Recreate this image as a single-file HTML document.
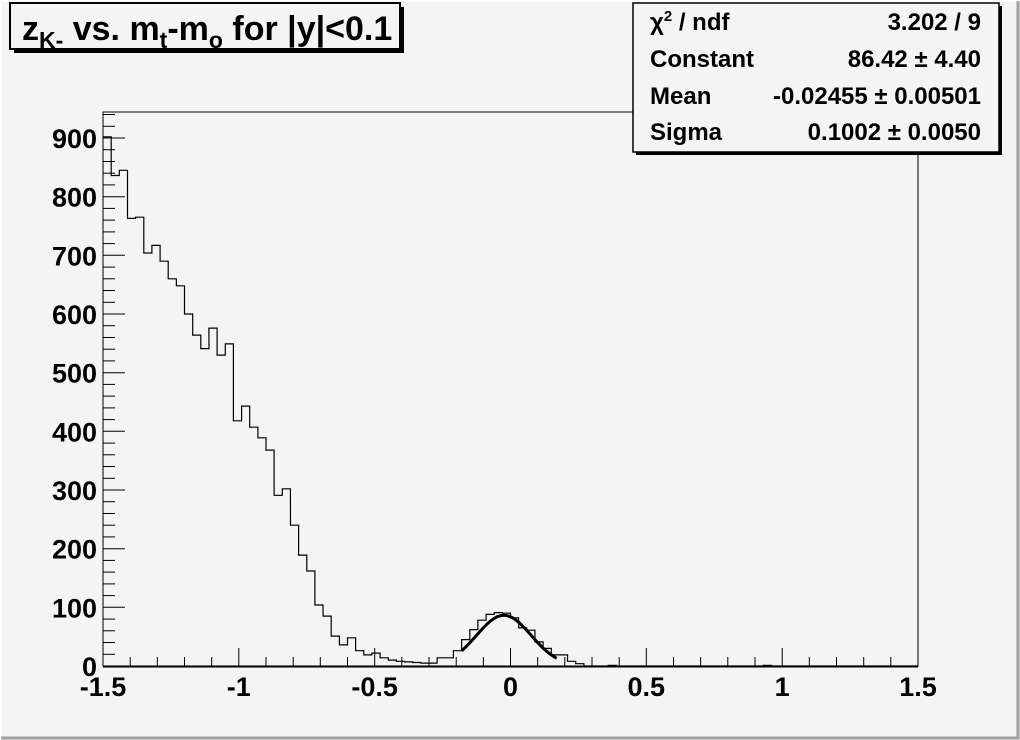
<!DOCTYPE html>
<html><head><meta charset="utf-8"><style>
html,body{margin:0;padding:0;background:#f4f4f4;}
svg{display:block;font-family:"Liberation Sans",Arial,sans-serif;font-weight:bold;}
</style></head><body>
<svg id="s" width="1020" height="740" viewBox="0 0 1020 740" xmlns="http://www.w3.org/2000/svg">
<rect x="0" y="0" width="1020" height="740" fill="#f4f4f4"/>
<path d="M1,739 V1 H1019" stroke="#ffffff" stroke-width="2" fill="none"/>
<path d="M1018,1 V738 H1" stroke="#a0a0a0" stroke-width="3" fill="none"/>
<rect x="103" y="112" width="815" height="554" fill="none" stroke="#000" stroke-width="1"/>
<g id="axes" stroke="#000" fill="none"></g>
<path id="h" fill="none" stroke="#000" stroke-width="1.2"/>
<path id="g" fill="none" stroke="#000" stroke-width="3"/>
<line x1="103" y1="666.5" x2="918" y2="666.5" stroke="#000" stroke-width="2"/>
<g font-size="27" text-anchor="end" id="yl"></g>
<g font-size="27" text-anchor="middle" id="xl"></g>
<rect x="14" y="7" width="390" height="46" fill="#000"/>
<rect x="10" y="3" width="390" height="46" fill="#f4f4f4" stroke="#000" stroke-width="2"/>
<text x="22" y="40" font-size="34">z<tspan font-size="23" dy="8">K-</tspan><tspan dy="-8"> vs. m</tspan><tspan font-size="23" dy="8">t</tspan><tspan dy="-8">-m</tspan><tspan font-size="23" dy="8">o</tspan><tspan dy="-8"> for |y|&lt;0.1</tspan></text>
<rect x="636" y="6" width="366" height="149" fill="#000"/>
<rect x="633" y="3" width="366" height="149" fill="#f4f4f4" stroke="#000" stroke-width="1.5"/>
<g font-size="24">
<text x="650" y="30">χ<tspan font-size="15" dy="-9">2</tspan><tspan dy="9"> / ndf</tspan></text>
<text x="650" y="67">Constant</text>
<text x="650" y="104">Mean</text>
<text x="650" y="140">Sigma</text>
<g text-anchor="end">
<text x="981" y="30">3.202 / 9</text>
<text x="981" y="67">86.42 ± 4.40</text>
<text x="981" y="104">-0.02455 ± 0.00501</text>
<text x="981" y="140">0.1002 ± 0.0050</text>
</g></g>
</svg>
<script>
var v=[902,836,845,763,765,704,717,690,660,648,600,564,541,576,530,549,418,443,407,389,368,291,302,240,189,162,104,85,51,36,48,26,19,22,14,10,8,7,6,5,5,14,14,26,45,62,78,88,91,90,82,65,61,41,30,19,19,8,4,0,0,0,1,0,0,0,0,0,0,0,0,0,0,0,0,0,0,0,0,0,0,1];
while(v.length<100)v.push(0);
function X(x){return 103+(x+1.5)*815/3;}function Y(y){return 666-y*0.58667;}
var d="M103,"+Y(v[0]).toFixed(1);
for(var i=0;i<100;i++){var x0=103+i*8.15,x1=x0+8.15,y=Y(v[i]).toFixed(1);d+=" L"+x0.toFixed(1)+","+y+" L"+x1.toFixed(1)+","+y;}
d+=" L918,666";
document.getElementById('h').setAttribute('d',d);
var g="";for(var x=-0.18;x<=0.171;x+=0.005){var y=86.42*Math.exp(-0.5*Math.pow((x+0.02455)/0.1002,2));g+=(g?" L":"M")+X(x).toFixed(1)+","+Y(y).toFixed(1);}
document.getElementById('g').setAttribute('d',g);
var a="",yl="",xl="";
for(var k=0;k<=940;k+=20){if(Y(k)<112)break;var L=(k%100==0)?22:12;a+='<line x1="103" x2="'+(103+L)+'" y1="'+Y(k).toFixed(1)+'" y2="'+Y(k).toFixed(1)+'"/>';if(k%100==0)yl+='<text x="97" y="'+(Y(k)+10).toFixed(1)+'">'+k+'</text>';}
for(var j=0;j<=30;j++){var x=X(-1.5+j*0.1);var L=(j%5==0)?18:9;a+='<line x1="'+x.toFixed(1)+'" x2="'+x.toFixed(1)+'" y1="666" y2="'+(666-L)+'"/>';if(j%5==0){var t=(-1.5+j*0.1);t=Math.round(t*10)/10;xl+='<text x="'+x.toFixed(1)+'" y="696">'+t+'</text>';}}
document.getElementById('axes').innerHTML=a;
document.getElementById('yl').innerHTML=yl;
document.getElementById('xl').innerHTML=xl;
</script>
</body></html>
